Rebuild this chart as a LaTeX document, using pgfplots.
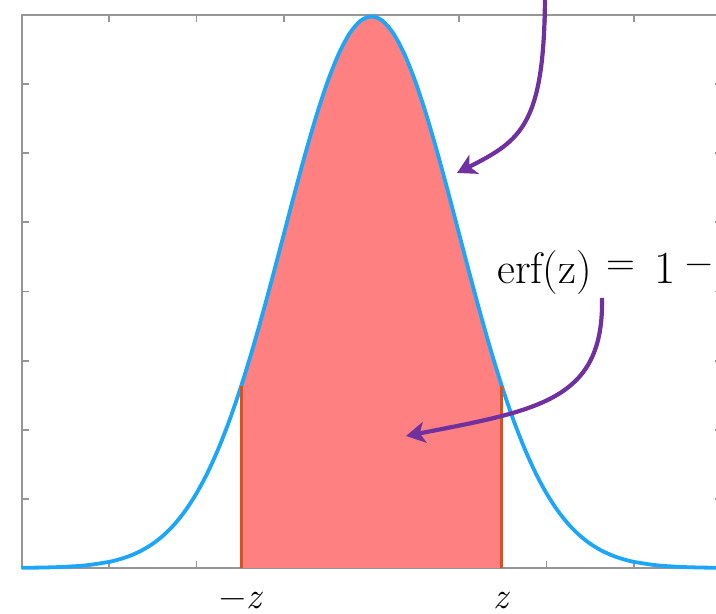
\documentclass[border=0pt]{standalone}
\usepackage{fontspec}
\setmainfont{Latin Modern Roman}
\usepackage{pgfplots}
\pgfplotsset{compat=1.18}
\usepgfplotslibrary{fillbetween}
\usetikzlibrary{arrows.meta}

\definecolor{curveblue}{RGB}{28,166,250}
\definecolor{areared}{RGB}{255,128,128}
\definecolor{edgeorange}{RGB}{217,83,25}
\definecolor{arrowpurple}{RGB}{112,48,160}
\definecolor{framegray}{RGB}{150,150,150}

% standard normal density, tabulated
\pgfplotstableread{
x       y
-4.000  0.00013
-3.750  0.00035
-3.500  0.00087
-3.250  0.00203
-3.000  0.00443
-2.875  0.00640
-2.750  0.00909
-2.625  0.01273
-2.500  0.01753
-2.375  0.02377
-2.250  0.03174
-2.125  0.04173
-2.000  0.05399
-1.875  0.06879
-1.750  0.08628
-1.625  0.10654
-1.500  0.12952
-1.375  0.15502
-1.250  0.18265
-1.125  0.21187
-1.000  0.24197
-0.875  0.27205
-0.750  0.30114
-0.625  0.32816
-0.500  0.35207
-0.375  0.37185
-0.250  0.38667
-0.125  0.39584
 0.000  0.39894
 0.125  0.39584
 0.250  0.38667
 0.375  0.37185
 0.500  0.35207
 0.625  0.32816
 0.750  0.30114
 0.875  0.27205
 1.000  0.24197
 1.125  0.21187
 1.250  0.18265
 1.375  0.15502
 1.500  0.12952
 1.625  0.10654
 1.750  0.08628
 1.875  0.06879
 2.000  0.05399
 2.125  0.04173
 2.250  0.03174
 2.375  0.02377
 2.500  0.01753
 2.625  0.01273
 2.750  0.00909
 2.875  0.00640
 3.000  0.00443
 3.250  0.00203
 3.500  0.00087
 3.750  0.00035
 4.000  0.00013
}\pdftable

\begin{document}
\begin{tikzpicture}
\begin{axis}[
  at={(10.75pt,23pt)}, anchor=south west,
  scale only axis, width=350pt, height=276.5pt,
  xmin=-4, xmax=4, ymin=0, ymax=0.4,
  xtick={-4,-3,-2,-1,0,1,2,3,4},
  ytick={0,0.05,0.1,0.15,0.2,0.25,0.3,0.35,0.4},
  xticklabels={}, yticklabels={},
  tick align=inside, major tick length=3.5pt,
  axis line style={framegray, line width=1pt},
  every tick/.style={framegray, line width=0.9pt},
  clip=false,
]
  \addplot[name path=base, draw=none] coordinates {(-4,0) (4,0)};
  \addplot[name path=pdf, curveblue, line width=1.9pt, smooth] table[x=x,y=y] {\pdftable};
  \addplot[areared] fill between[of=pdf and base, soft clip={domain=-1.49:1.49}];
  \addplot[edgeorange, line width=1.4pt] coordinates {(-1.49,0) (-1.49,0.13146)};
  \addplot[edgeorange, line width=1.4pt] coordinates {(1.49,0) (1.49,0.13146)};
  \node[anchor=base, inner sep=0pt, font=\fontsize{18.5}{21}\selectfont]
    at (axis cs:-1.49,0) [yshift=-20.5pt] {−\textit{z}};
  \node[anchor=base, inner sep=0pt, font=\fontsize{18.5}{21}\selectfont]
    at (axis cs:1.49,0) [yshift=-20.5pt] {\textit{z}};
\end{axis}

% annotations: 1 unit = 0.5pt, y downward from the top edge
\begin{scope}[x=0.5pt, y=-0.5pt, yshift=307pt]
  \draw[arrowpurple, line width=2.1pt, -{Stealth[length=9.5pt, width=10.5pt, inset=2.5pt]}]
    (545,-10) .. controls (545,125) and (522,140) .. (457,173);
  \draw[arrowpurple, line width=2.1pt, -{Stealth[length=9.5pt, width=10.5pt, inset=2.5pt]}]
    (602,298) .. controls (604,400) and (540,410) .. (406,436);
  \node[anchor=base west, inner sep=0pt, font=\fontsize{22}{25}\selectfont]
    at (497,284) {erf(z)};
  \node[anchor=base, inner sep=0pt, font=\fontsize{20}{23}\selectfont]
    at (621,276) {=};
  \node[anchor=base, inner sep=0pt, font=\fontsize{23}{26}\selectfont]
    at (665,284) {1};
  \node[anchor=base, inner sep=0pt, font=\fontsize{19}{22}\selectfont]
    at (699,275) {−};
\end{scope}
\pgfresetboundingbox
\path[use as bounding box] (0,0) rectangle (358pt,307pt);
\end{tikzpicture}
\end{document}
